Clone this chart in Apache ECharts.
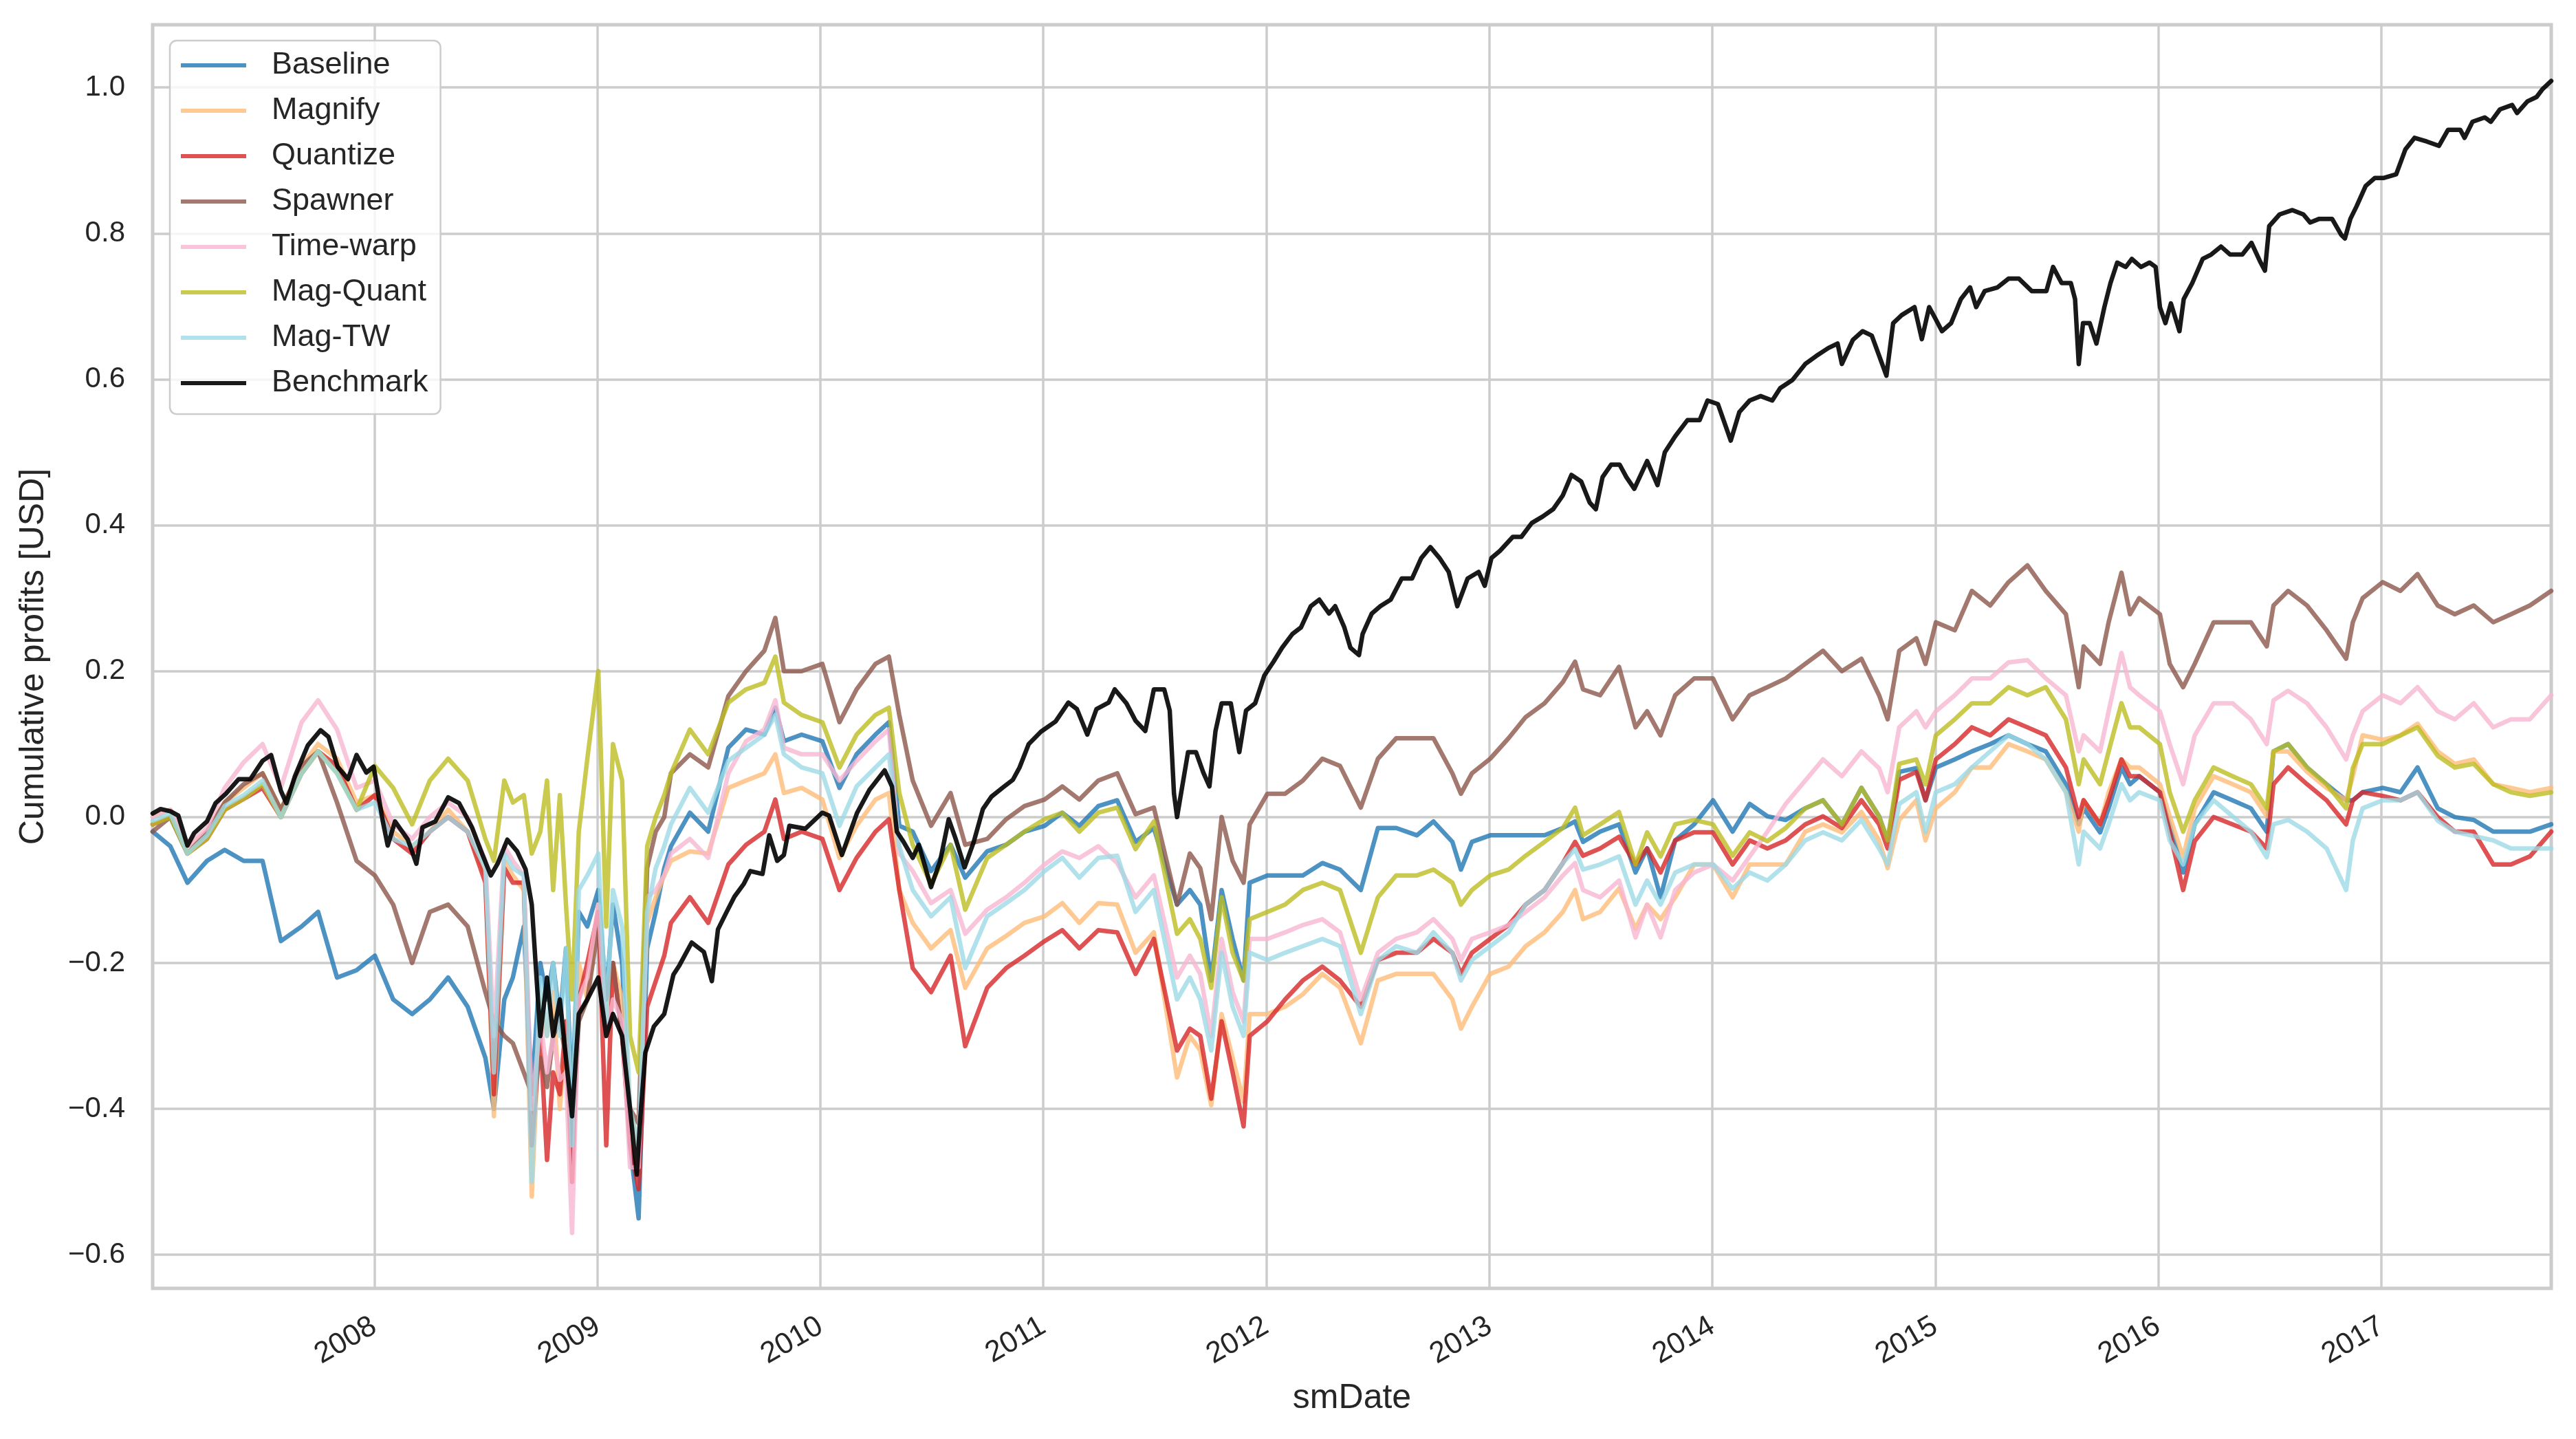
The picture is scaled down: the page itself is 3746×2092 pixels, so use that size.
<!DOCTYPE html>
<html>
<head>
<meta charset="utf-8">
<script src="https://cdn.jsdelivr.net/npm/echarts@6/dist/echarts.min.js"></script>
<style>
html,body{margin:0;padding:0;background:#ffffff;}
#chart{width:3746px;height:2092px;}
</style>
</head>
<body>
<div id="chart"></div>
<script>
const dates = [
'2007-01-03','2007-02-01','2007-03-01','2007-04-02','2007-05-01','2007-06-01','2007-07-02','2007-08-01','2007-09-04','2007-10-01',
'2007-11-01','2007-12-03','2008-01-02','2008-02-01','2008-03-03','2008-04-01','2008-05-01','2008-06-02','2008-07-01','2008-07-15',
'2008-08-01','2008-08-15','2008-09-02','2008-09-15','2008-09-29','2008-10-10','2008-10-20','2008-10-31','2008-11-10','2008-11-20',
'2008-12-01','2008-12-15','2009-01-02','2009-01-15','2009-01-26','2009-02-10','2009-02-23','2009-03-09','2009-03-23','2009-04-06',
'2009-04-20','2009-05-01','2009-06-01','2009-07-01','2009-08-03','2009-09-01','2009-10-01','2009-10-19','2009-11-02','2009-12-01',
'2010-01-04','2010-02-01','2010-03-01','2010-04-01','2010-04-23','2010-05-10','2010-06-01','2010-07-01','2010-08-02','2010-08-26',
'2010-10-01','2010-11-01','2010-12-01','2011-01-03','2011-02-01','2011-03-01','2011-04-01','2011-05-02','2011-06-01','2011-07-01',
'2011-08-08','2011-08-29','2011-09-15','2011-10-03','2011-10-20','2011-11-07','2011-11-25','2011-12-05','2012-01-03','2012-02-01',
'2012-03-01','2012-04-02','2012-05-01','2012-06-04','2012-07-02','2012-08-01','2012-09-04','2012-10-01','2012-11-01','2012-11-15',
'2012-12-03','2013-01-02','2013-02-01','2013-03-01','2013-04-01','2013-05-01','2013-05-21','2013-06-03','2013-07-01','2013-08-01',
'2013-08-28','2013-09-16','2013-10-08','2013-11-01','2013-12-02','2014-01-02','2014-02-03','2014-03-03','2014-04-01','2014-05-01',
'2014-06-02','2014-07-01','2014-08-01','2014-09-02','2014-10-01','2014-10-15','2014-11-03','2014-12-01','2014-12-16','2015-01-02',
'2015-02-02','2015-03-02','2015-04-01','2015-05-01','2015-06-01','2015-07-01','2015-08-03','2015-08-24','2015-09-01','2015-09-28',
'2015-10-12','2015-11-02','2015-11-16','2015-12-01','2016-01-04','2016-01-20','2016-02-11','2016-03-01','2016-04-01','2016-05-02',
'2016-06-01','2016-06-27','2016-07-08','2016-08-01','2016-09-01','2016-10-03','2016-11-04','2016-11-15','2016-12-01','2017-01-03',
'2017-02-01','2017-03-01','2017-04-03','2017-05-01','2017-06-01','2017-07-03','2017-08-01','2017-09-01','2017-10-06'
];

const baseline = [
-0.02,-0.04,-0.09,-0.06,-0.045,-0.06,-0.06,-0.17,-0.15,-0.13,
-0.22,-0.21,-0.19,-0.25,-0.27,-0.25,-0.22,-0.26,-0.33,-0.40,
-0.25,-0.22,-0.15,-0.38,-0.20,-0.25,-0.20,-0.28,-0.18,-0.40,
-0.13,-0.15,-0.10,-0.25,-0.12,-0.20,-0.45,-0.55,-0.18,-0.13,
-0.07,-0.04,0.006,-0.02,0.095,0.12,0.113,0.15,0.104,0.113,
0.104,0.04,0.086,0.113,0.13,-0.012,-0.02,-0.074,-0.038,-0.083,
-0.047,-0.038,-0.02,-0.012,0.006,-0.012,0.015,0.023,-0.034,-0.015,
-0.12,-0.10,-0.12,-0.224,-0.10,-0.167,-0.224,-0.09,-0.08,-0.08,
-0.08,-0.063,-0.072,-0.10,-0.015,-0.015,-0.025,-0.006,-0.034,-0.072,
-0.034,-0.025,-0.025,-0.025,-0.025,-0.015,-0.006,-0.034,-0.02,-0.01,
-0.076,-0.043,-0.11,-0.032,-0.01,0.023,-0.02,0.018,0.001,-0.004,
0.012,0.023,-0.01,0.04,0.001,-0.032,0.062,0.067,0.023,0.068,
0.079,0.09,0.10,0.112,0.10,0.09,0.045,-0.01,0.012,-0.021,
0.012,0.068,0.045,0.056,0.034,-0.01,-0.076,-0.01,0.034,0.023,
0.012,-0.02,0.09,0.10,0.068,0.045,0.023,0.023,0.034,0.04,
0.034,0.068,0.012,0.00,-0.004,-0.02,-0.02,-0.02,-0.01
];

const magnify = [
0.00,0.01,-0.04,-0.02,0.02,0.04,0.06,0.01,0.07,0.10,
0.08,0.02,0.03,-0.02,-0.04,-0.02,0.01,-0.02,-0.08,-0.41,
-0.06,-0.08,-0.10,-0.52,-0.25,-0.30,-0.24,-0.40,-0.30,-0.50,
-0.20,-0.25,-0.12,-0.30,-0.20,-0.25,-0.40,-0.45,-0.145,-0.11,
-0.08,-0.06,-0.047,-0.05,0.04,0.05,0.06,0.086,0.033,0.04,
0.024,-0.056,-0.012,0.024,0.033,-0.10,-0.145,-0.18,-0.155,-0.234,
-0.18,-0.163,-0.145,-0.136,-0.118,-0.145,-0.118,-0.12,-0.186,-0.158,
-0.357,-0.30,-0.32,-0.395,-0.27,-0.33,-0.39,-0.27,-0.27,-0.26,
-0.243,-0.215,-0.234,-0.31,-0.224,-0.215,-0.215,-0.215,-0.25,-0.29,
-0.26,-0.215,-0.205,-0.177,-0.158,-0.13,-0.10,-0.14,-0.13,-0.098,
-0.153,-0.12,-0.14,-0.11,-0.065,-0.065,-0.11,-0.065,-0.065,-0.065,
-0.02,-0.01,-0.021,0.007,-0.032,-0.07,-0.004,0.023,-0.032,0.012,
0.034,0.068,0.068,0.10,0.09,0.079,0.034,-0.02,0.023,-0.01,
0.034,0.079,0.068,0.068,0.045,0.001,-0.055,0.012,0.056,0.045,
0.034,0.001,0.09,0.09,0.062,0.04,0.023,0.056,0.112,0.106,
0.112,0.128,0.09,0.073,0.079,0.045,0.04,0.034,0.04
];

const quantize = [
-0.01,0.00,-0.05,-0.03,0.01,0.025,0.04,0.00,0.06,0.09,
0.07,0.01,0.03,-0.03,-0.05,-0.02,0.00,-0.02,-0.09,-0.38,
-0.07,-0.09,-0.09,-0.45,-0.30,-0.47,-0.35,-0.38,-0.28,-0.50,
-0.25,-0.20,-0.13,-0.45,-0.20,-0.30,-0.45,-0.51,-0.26,-0.225,
-0.19,-0.145,-0.11,-0.145,-0.065,-0.038,-0.02,0.024,-0.03,-0.02,
-0.03,-0.10,-0.056,-0.02,-0.003,-0.10,-0.207,-0.24,-0.19,-0.314,
-0.234,-0.207,-0.19,-0.17,-0.155,-0.18,-0.155,-0.158,-0.215,-0.167,
-0.32,-0.29,-0.30,-0.386,-0.28,-0.35,-0.424,-0.30,-0.28,-0.25,
-0.224,-0.205,-0.224,-0.26,-0.196,-0.186,-0.186,-0.167,-0.186,-0.215,
-0.186,-0.167,-0.148,-0.12,-0.10,-0.063,-0.034,-0.053,-0.043,-0.027,
-0.065,-0.043,-0.076,-0.032,-0.021,-0.021,-0.065,-0.032,-0.043,-0.032,
-0.01,0.001,-0.015,0.023,-0.01,-0.043,0.051,0.062,0.023,0.079,
0.10,0.123,0.112,0.134,0.123,0.112,0.068,0.00,0.023,-0.01,
0.023,0.079,0.056,0.056,0.034,-0.02,-0.10,-0.033,0.00,-0.01,
-0.02,-0.043,0.045,0.068,0.045,0.023,-0.01,0.023,0.034,0.029,
0.023,0.034,0.00,-0.02,-0.02,-0.065,-0.065,-0.054,-0.02
];

const spawner = [
-0.02,0.00,-0.05,-0.02,0.02,0.045,0.06,0.01,0.07,0.09,
0.02,-0.06,-0.08,-0.12,-0.20,-0.13,-0.12,-0.15,-0.24,-0.28,
-0.30,-0.31,-0.35,-0.38,-0.33,-0.37,-0.30,-0.28,-0.33,-0.45,
-0.28,-0.25,-0.15,-0.25,-0.20,-0.30,-0.40,-0.42,-0.07,-0.02,
0.00,0.06,0.086,0.068,0.166,0.20,0.228,0.273,0.20,0.20,
0.21,0.13,0.175,0.21,0.22,0.14,0.05,-0.012,0.033,-0.038,
-0.03,-0.003,0.015,0.024,0.042,0.024,0.05,0.06,0.004,0.013,
-0.12,-0.05,-0.07,-0.14,0.00,-0.06,-0.09,-0.01,0.032,0.032,
0.05,0.08,0.07,0.013,0.08,0.108,0.108,0.108,0.06,0.032,
0.06,0.08,0.108,0.137,0.156,0.185,0.213,0.175,0.167,0.206,
0.123,0.145,0.112,0.167,0.19,0.19,0.134,0.167,0.178,0.19,
0.21,0.228,0.20,0.217,0.167,0.134,0.228,0.245,0.21,0.267,
0.256,0.31,0.29,0.322,0.345,0.31,0.278,0.178,0.234,0.21,
0.267,0.335,0.278,0.30,0.278,0.21,0.178,0.21,0.267,0.267,
0.267,0.234,0.29,0.31,0.29,0.256,0.217,0.267,0.30,0.322,
0.31,0.333,0.29,0.278,0.29,0.267,0.278,0.29,0.31
];

const timeWarp = [
0.00,0.01,-0.04,-0.015,0.04,0.075,0.10,0.04,0.13,0.16,
0.12,0.04,0.05,-0.01,-0.03,0.00,0.02,0.00,-0.06,-0.30,
-0.04,-0.06,-0.08,-0.40,-0.28,-0.35,-0.30,-0.36,-0.35,-0.57,
-0.25,-0.22,-0.12,-0.30,-0.25,-0.28,-0.48,-0.48,-0.11,-0.10,
-0.08,-0.05,-0.03,-0.056,0.06,0.104,0.12,0.16,0.095,0.086,
0.086,0.05,0.077,0.104,0.12,-0.05,-0.074,-0.118,-0.10,-0.16,
-0.127,-0.11,-0.09,-0.065,-0.047,-0.056,-0.04,-0.063,-0.11,-0.08,
-0.22,-0.19,-0.215,-0.30,-0.167,-0.24,-0.28,-0.167,-0.167,-0.158,
-0.148,-0.14,-0.158,-0.25,-0.186,-0.167,-0.158,-0.14,-0.167,-0.196,
-0.167,-0.158,-0.148,-0.13,-0.11,-0.08,-0.063,-0.10,-0.11,-0.087,
-0.165,-0.12,-0.165,-0.10,-0.076,-0.065,-0.087,-0.054,-0.02,0.018,
0.05,0.079,0.056,0.09,0.067,0.034,0.123,0.145,0.123,0.145,
0.167,0.19,0.19,0.212,0.215,0.19,0.167,0.09,0.112,0.09,
0.145,0.225,0.178,0.167,0.145,0.10,0.045,0.112,0.156,0.156,
0.134,0.10,0.16,0.173,0.156,0.123,0.079,0.112,0.145,0.167,
0.156,0.178,0.145,0.134,0.156,0.123,0.134,0.134,0.167
];

const magQuant = [
-0.01,0.00,-0.05,-0.03,0.01,0.025,0.045,0.00,0.06,0.09,
0.06,0.01,0.07,0.04,-0.01,0.05,0.08,0.05,-0.03,-0.06,
0.05,0.02,0.03,-0.05,-0.02,0.05,-0.10,0.03,-0.12,-0.25,
-0.02,0.08,0.20,-0.15,0.10,0.05,-0.30,-0.35,-0.04,0.00,
0.03,0.06,0.12,0.086,0.157,0.175,0.184,0.22,0.157,0.14,
0.13,0.068,0.113,0.14,0.15,0.033,-0.038,-0.092,-0.038,-0.127,
-0.056,-0.038,-0.02,-0.003,0.006,-0.02,0.006,0.013,-0.044,-0.006,
-0.16,-0.14,-0.167,-0.234,-0.11,-0.186,-0.224,-0.14,-0.13,-0.12,
-0.10,-0.09,-0.10,-0.186,-0.11,-0.08,-0.08,-0.072,-0.09,-0.12,
-0.10,-0.08,-0.072,-0.053,-0.034,-0.015,0.013,-0.025,-0.01,0.007,
-0.065,-0.021,-0.054,-0.01,-0.004,-0.01,-0.053,-0.021,-0.033,-0.015,
0.012,0.023,-0.01,0.04,0.001,-0.032,0.073,0.079,0.045,0.112,
0.134,0.156,0.156,0.178,0.167,0.178,0.134,0.045,0.079,0.045,
0.09,0.156,0.123,0.123,0.10,0.034,-0.02,0.023,0.068,0.056,
0.045,0.012,0.09,0.10,0.068,0.045,0.012,0.067,0.10,0.10,
0.112,0.123,0.084,0.068,0.073,0.045,0.034,0.029,0.034
];

const magTW = [
-0.005,0.005,-0.05,-0.025,0.015,0.03,0.05,0.00,0.06,0.09,
0.06,0.01,0.02,-0.03,-0.04,-0.02,0.00,-0.02,-0.07,-0.35,
-0.05,-0.07,-0.08,-0.50,-0.22,-0.30,-0.20,-0.30,-0.18,-0.45,
-0.10,-0.08,-0.05,-0.28,-0.10,-0.15,-0.40,-0.45,-0.13,-0.07,
-0.04,-0.01,0.04,0.006,0.077,0.095,0.113,0.14,0.086,0.068,
0.06,-0.012,0.042,0.068,0.086,-0.04,-0.10,-0.136,-0.11,-0.207,
-0.136,-0.118,-0.10,-0.074,-0.056,-0.083,-0.056,-0.053,-0.13,-0.10,
-0.25,-0.22,-0.25,-0.32,-0.186,-0.26,-0.30,-0.186,-0.196,-0.186,
-0.177,-0.167,-0.177,-0.27,-0.196,-0.177,-0.186,-0.158,-0.186,-0.224,
-0.196,-0.177,-0.158,-0.12,-0.10,-0.063,-0.044,-0.072,-0.065,-0.054,
-0.12,-0.087,-0.12,-0.076,-0.065,-0.065,-0.098,-0.076,-0.087,-0.065,
-0.032,-0.021,-0.032,-0.004,-0.043,-0.065,0.018,0.034,-0.021,0.034,
0.045,0.068,0.09,0.112,0.10,0.079,0.034,-0.065,-0.02,-0.043,
-0.01,0.045,0.023,0.034,0.023,-0.032,-0.065,-0.01,0.023,0.001,
-0.02,-0.055,-0.01,-0.004,-0.02,-0.043,-0.10,-0.032,0.012,0.023,
0.023,0.034,-0.005,-0.02,-0.026,-0.032,-0.043,-0.043,-0.043
];

const benchDates = [
'2007-01-03','2007-01-16','2007-02-01','2007-02-14','2007-03-01','2007-03-12','2007-04-02','2007-04-16','2007-05-03','2007-05-24',
'2007-06-12','2007-07-02','2007-07-16','2007-08-01','2007-08-10','2007-08-24','2007-09-14','2007-10-05','2007-10-18','2007-11-02',
'2007-11-19','2007-12-03','2007-12-19','2007-12-31','2008-01-15','2008-01-23','2008-02-04','2008-02-25','2008-03-10','2008-03-20',
'2008-04-10','2008-05-01','2008-05-19','2008-06-09','2008-06-24','2008-07-10','2008-07-21','2008-08-06','2008-08-22','2008-09-05',
'2008-09-15','2008-09-29','2008-10-10','2008-10-20','2008-10-31','2008-11-10','2008-11-20','2008-12-01','2008-12-15','2009-01-02',
'2009-01-15','2009-01-26','2009-02-10','2009-02-23','2009-03-06','2009-03-12','2009-03-20','2009-04-03','2009-04-20','2009-05-05',
'2009-05-15','2009-06-04','2009-06-24','2009-07-07','2009-07-17','2009-07-30','2009-08-13','2009-08-28','2009-09-08','2009-09-28',
'2009-10-09','2009-10-22','2009-11-02','2009-11-11','2009-12-07','2010-01-04','2010-01-15','2010-02-05','2010-03-02','2010-03-22',
'2010-04-16','2010-04-28','2010-05-06','2010-05-17','2010-06-01','2010-06-11','2010-07-01','2010-07-16','2010-07-30','2010-08-10',
'2010-08-25','2010-09-09','2010-09-24','2010-10-08','2010-10-29','2010-11-12','2010-11-23','2010-12-08','2010-12-28','2011-01-21',
'2011-02-11','2011-02-25','2011-03-14','2011-03-29','2011-04-18','2011-04-28','2011-05-17','2011-06-01','2011-06-17','2011-07-01',
'2011-07-18','2011-07-27','2011-08-03','2011-08-08','2011-08-26','2011-09-08','2011-09-20','2011-09-30','2011-10-10','2011-10-20',
'2011-11-04','2011-11-18','2011-11-29','2011-12-14','2011-12-29','2012-01-13','2012-01-27','2012-02-13','2012-02-27','2012-03-14',
'2012-03-28','2012-04-13','2012-04-23','2012-05-08','2012-05-18','2012-06-01','2012-06-07','2012-06-22','2012-07-06','2012-07-23',
'2012-08-10','2012-08-27','2012-09-11','2012-09-26','2012-10-11','2012-10-26','2012-11-09','2012-11-26','2012-12-14','2012-12-24',
'2013-01-04','2013-01-18','2013-02-08','2013-02-22','2013-03-11','2013-03-29','2013-04-15','2013-05-01','2013-05-15','2013-05-31',
'2013-06-14','2013-06-24','2013-07-05','2013-07-19','2013-08-02','2013-08-13','2013-08-26','2013-09-16','2013-10-03','2013-10-15',
'2013-11-01','2013-11-21','2013-12-11','2013-12-24','2014-01-10','2014-01-31','2014-02-14','2014-03-03','2014-03-21','2014-04-09',
'2014-04-22','2014-05-12','2014-06-02','2014-06-20','2014-07-10','2014-07-25','2014-08-01','2014-08-19','2014-09-04','2014-09-19',
'2014-10-13','2014-10-24','2014-11-07','2014-11-28','2014-12-10','2014-12-22','2015-01-02','2015-01-12','2015-01-27','2015-02-12',
'2015-02-27','2015-03-09','2015-03-23','2015-04-13','2015-05-01','2015-05-18','2015-06-08','2015-07-02','2015-07-13','2015-07-27',
'2015-08-11','2015-08-18','2015-08-24','2015-08-31','2015-09-11','2015-09-22','2015-10-05','2015-10-15','2015-10-26','2015-11-09',
'2015-11-19','2015-12-04','2015-12-18','2015-12-28','2016-01-04','2016-01-13','2016-01-22','2016-02-05','2016-02-12','2016-02-26',
'2016-03-14','2016-03-28','2016-04-13','2016-04-28','2016-05-18','2016-06-02','2016-06-17','2016-06-24','2016-07-01','2016-07-18',
'2016-08-08','2016-08-26','2016-09-06','2016-09-21','2016-10-12','2016-10-27','2016-11-02','2016-11-11','2016-11-21','2016-12-06',
'2016-12-21','2017-01-05','2017-01-25','2017-02-09','2017-02-24','2017-03-16','2017-04-05','2017-04-20','2017-05-10','2017-05-17',
'2017-05-30','2017-06-19','2017-06-29','2017-07-14','2017-08-03','2017-08-11','2017-08-28','2017-09-12','2017-09-22','2017-10-06'
];

const benchmark = [
0.005,0.011,0.008,0.002,-0.039,-0.022,-0.006,0.019,0.032,0.052,
0.052,0.077,0.085,0.036,0.019,0.056,0.098,0.119,0.11,0.069,
0.052,0.085,0.061,0.069,-0.006,-0.039,-0.006,-0.031,-0.064,-0.014,
-0.006,0.027,0.019,-0.014,-0.047,-0.08,-0.064,-0.031,-0.047,-0.072,
-0.12,-0.30,-0.22,-0.30,-0.25,-0.33,-0.41,-0.27,-0.25,-0.22,
-0.30,-0.27,-0.30,-0.40,-0.49,-0.41,-0.323,-0.287,-0.27,-0.216,
-0.203,-0.172,-0.185,-0.225,-0.154,-0.132,-0.109,-0.092,-0.074,-0.078,
-0.025,-0.06,-0.052,-0.012,-0.016,0.006,0.002,-0.052,0.006,0.037,
0.064,0.042,-0.02,-0.034,-0.056,-0.038,-0.096,-0.06,-0.003,-0.029,
-0.069,-0.034,0.011,0.028,0.042,0.051,0.068,0.10,0.117,0.131,
0.157,0.148,0.113,0.148,0.157,0.175,0.156,0.132,0.118,0.175,
0.175,0.146,0.032,0.00,0.089,0.089,0.061,0.042,0.118,0.156,
0.156,0.089,0.146,0.156,0.194,0.213,0.232,0.251,0.26,0.289,
0.298,0.279,0.289,0.26,0.232,0.222,0.251,0.279,0.289,0.298,
0.327,0.327,0.355,0.37,0.355,0.336,0.289,0.327,0.336,0.317,
0.355,0.365,0.384,0.384,0.403,0.412,0.422,0.441,0.469,0.46,
0.431,0.422,0.466,0.483,0.483,0.466,0.45,0.488,0.455,0.50,
0.522,0.544,0.544,0.571,0.566,0.516,0.555,0.571,0.577,0.571,
0.588,0.599,0.621,0.632,0.643,0.649,0.621,0.654,0.666,0.66,
0.605,0.677,0.688,0.699,0.655,0.699,0.682,0.666,0.677,0.71,
0.726,0.699,0.721,0.726,0.738,0.738,0.721,0.721,0.754,0.732,
0.732,0.71,0.621,0.677,0.677,0.649,0.699,0.732,0.76,0.754,
0.765,0.754,0.76,0.754,0.699,0.677,0.704,0.666,0.71,0.732,
0.765,0.771,0.782,0.771,0.771,0.787,0.76,0.749,0.81,0.826,
0.832,0.826,0.815,0.82,0.82,0.798,0.793,0.82,0.837,0.865,
0.876,0.876,0.881,0.915,0.931,0.926,0.92,0.942,0.942,0.931,
0.953,0.959,0.953,0.97,0.976,0.965,0.981,0.987,0.998,1.009
];

const seriesNames = ['Baseline','Magnify','Quantize','Spawner','Time-warp','Mag-Quant','Mag-TW','Benchmark'];
const seriesValues = [baseline, magnify, quantize, spawner, timeWarp, magQuant, magTW, benchmark];
const seriesDates = [dates, dates, dates, dates, dates, dates, dates, benchDates];
const seriesColors = [
  'rgba(31,119,180,0.8)','rgba(255,187,120,0.8)','rgba(214,39,40,0.8)','rgba(140,86,75,0.8)',
  'rgba(247,182,210,0.8)','rgba(188,189,34,0.8)','rgba(158,218,229,0.8)','rgba(0,0,0,0.9)'
];
const yTicks = [-0.6,-0.4,-0.2,0.0,0.2,0.4,0.6,0.8,1.0];
const xStart = '2007-01-03';
const xEnd = '2017-10-06';
const yMin = -0.646;
const yMax = 1.086;

function toUTC(s) {
  const p = s.split('-').map(Number);
  return Date.UTC(p[0], p[1] - 1, p[2]);
}

const FONT = '"Liberation Sans", Arial, Helvetica, sans-serif';
const TXT = '#262626';
const DAY = 86400000;

const chart = echarts.init(document.getElementById('chart'), null, {renderer: 'canvas'});
chart.setOption({
  useUTC: true,
  animation: false,
  backgroundColor: '#ffffff',
  textStyle: {fontFamily: FONT, color: TXT},
  grid: {
    left: 222, right: 36, top: 36, bottom: 219,
    show: true, borderColor: '#cccccc', borderWidth: 5, backgroundColor: '#ffffff'
  },
  legend: {
    show: true,
    orient: 'vertical',
    left: 247, top: 59,
    padding: [11, 18, 20, 16],
    itemGap: 16,
    itemWidth: 95,
    itemHeight: 6,
    icon: 'rect',
    backgroundColor: 'rgba(255,255,255,0.8)',
    borderColor: '#cccccc',
    borderWidth: 2.5,
    borderRadius: 10,
    textStyle: {fontFamily: FONT, fontSize: 45, color: TXT, lineHeight: 50, padding: [0, 0, 0, 32]},
    data: seriesNames
  },
  xAxis: {
    type: 'time',
    min: toUTC(xStart),
    max: toUTC(xEnd),
    splitNumber: 11,
    minInterval: 365 * DAY,
    maxInterval: 366 * DAY,
    name: 'smDate',
    nameLocation: 'middle',
    nameGap: 135,
    nameTextStyle: {fontFamily: FONT, fontSize: 50, color: TXT},
    axisLine: {show: false},
    axisTick: {show: false},
    axisLabel: {
      showMinLabel: false,
      showMaxLabel: false,
      rotate: 30,
      margin: 52,
      fontFamily: FONT, fontSize: 43, color: TXT,
      formatter: function (v) { return String(new Date(v).getUTCFullYear()); }
    },
    splitLine: {show: true, lineStyle: {color: '#cccccc', width: 3.5}}
  },
  yAxis: {
    type: 'value',
    min: yMin,
    max: yMax,
    minInterval: 0.2,
    maxInterval: 0.2,
    name: 'Cumulative profits [USD]',
    nameLocation: 'middle',
    nameGap: 148,
    nameTextStyle: {fontFamily: FONT, fontSize: 50, color: TXT},
    axisLine: {show: false},
    axisTick: {show: false},
    axisLabel: {
      customValues: yTicks,
      margin: 40,
      fontFamily: FONT, fontSize: 42, color: TXT,
      formatter: function (v) { return (v < -1e-9 ? '\u2212' : '') + Math.abs(v).toFixed(1); }
    },
    splitLine: {show: true, lineStyle: {color: '#cccccc', width: 3.5}}
  },
  series: seriesNames.map(function (name, k) {
    const xs = seriesDates[k].map(toUTC);
    return {
      name: name,
      type: 'line',
      data: seriesValues[k].map(function (v, i) { return [xs[i], v]; }),
      showSymbol: false,
      symbol: 'none',
      silent: true,
      smooth: false,
      lineStyle: {color: seriesColors[k], width: 6.5, cap: 'round', join: 'round'},
      itemStyle: {color: seriesColors[k]},
      emphasis: {disabled: true},
      z: 2 + k
    };
  })
});
</script>
</body>
</html>
